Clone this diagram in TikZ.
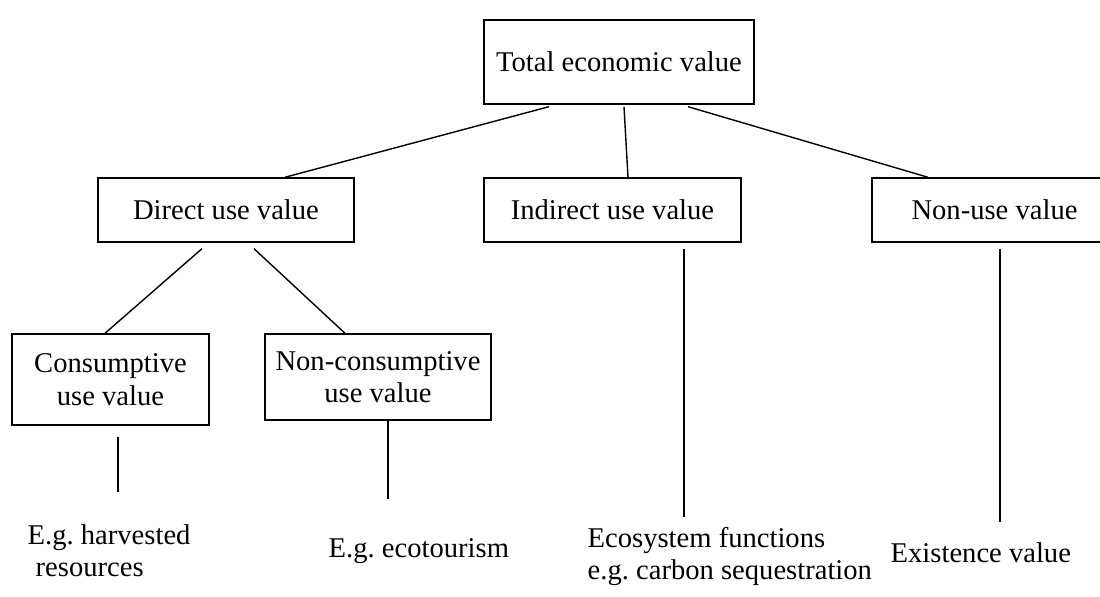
\documentclass[tikz,border=0pt]{standalone}
\usepackage{fontspec}
\setmainfont{Liberation Serif}
\frenchspacing

\begin{document}
\begin{tikzpicture}[
                x=0.5pt, y=0.5pt,
                line width=0.7pt,
                font=\fontsize{14.3pt}{16.3pt}\selectfont,
                valbox/.style={draw=black, rectangle, inner sep=0pt, align=center},  % boxes of the value tree
                example/.style={inner sep=0pt, anchor=base west, align=left},        % examples under the tree
                link/.style={line width=0.7pt}
            ]
            % Fixing the page size
            \useasboundingbox (0,0) rectangle (1100,597);
            \clip (0,0) rectangle (1100,597);

            % Top of the tree
            \node[valbox, minimum width=135pt, minimum height=42pt] (tev) at (619,535) {Total economic value};

            % Second level
            \node[valbox, minimum width=128pt, minimum height=32pt] (direct) at (226,387) {Direct use value};
            \node[valbox, minimum width=128.5pt, minimum height=32pt] (indirect) at (612.5,387) {Indirect use value};
            \node[valbox, minimum width=122.5pt, minimum height=32pt] (nonuse) at (994.5,387) {Non-use value};

            % Third level, below direct use
            \node[valbox, minimum width=98.5pt, minimum height=45.5pt] (consump) at (110.5,217.5) {Consumptive\\use value};
            \node[valbox, minimum width=113pt, minimum height=43pt] (noncons) at (378,220) {Non-consumptive\\use value};

            % Links from the top box
            \draw[link] ([xshift=-35pt,yshift=-1pt]tev.south) -- ([xshift=29.5pt]direct.north);
            \draw[link] ([xshift=2.5pt,yshift=-1pt]tev.south) -- ([xshift=7.75pt]indirect.north);
            \draw[link] ([xshift=34.5pt,yshift=-1pt]tev.south) -- ([xshift=-33.25pt]nonuse.north);

            % Links from direct use value
            \draw[link] ([xshift=-12pt,yshift=-3pt]direct.south) -- ([xshift=-2.75pt]consump.north);
            \draw[link] ([xshift=14pt,yshift=-3pt]direct.south) -- ([xshift=-16.5pt]noncons.north);

            % Ends of the drop lines
            \coordinate (harvend) at (118,105);
            \coordinate (ecoend) at (388,98);
            \coordinate (funcend) at (684,80);
            \coordinate (existend) at (1000,75);

            % Drop lines
            \draw[link] ([xshift=3.75pt,yshift=-5.5pt]consump.south) -- (harvend);
            \draw[link] ([xshift=5pt]noncons.south) -- (ecoend);
            \draw[link] ([xshift=35.75pt,yshift=-3pt]indirect.south) -- (funcend);
            \draw[link] ([xshift=2.75pt,yshift=-3pt]nonuse.south) -- (existend);

            % Examples
            \node[example] (harv) at (27,20) {E.g. harvested\\\hspace{4pt}resources};
            \node[example] (eco) at (328,39) {E.g. ecotourism};
            \node[example] (func) at (587,17) {Ecosystem functions\\e.g. carbon sequestration};
            \node[example] (exist) at (890,34) {Existence value};

        \end{tikzpicture}
\end{document}
